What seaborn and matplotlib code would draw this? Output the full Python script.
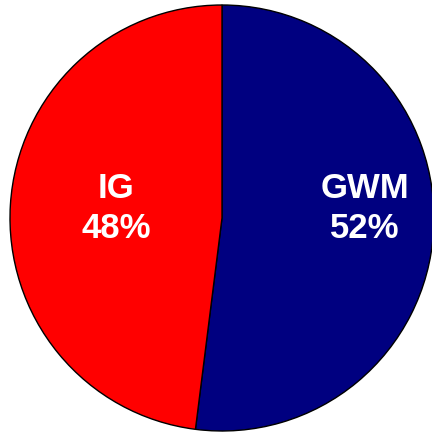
import matplotlib
matplotlib.use('Agg')
import matplotlib.pyplot as plt
import seaborn as sns

labels = ['GWM', 'IG']
shares = [52, 48]
colors = ['#000080', '#FF0000']

sns.set_theme(style='white')
plt.rcParams['font.family'] = ['Liberation Sans', 'DejaVu Sans']

fig = plt.figure(figsize=(4.32, 4.33), dpi=100)
# circle spans roughly x 10..434, y 5..431 px in the original
ax = fig.add_axes([10 / 432, (433 - 431) / 433, 424 / 432, 426 / 433])
wedges, _ = ax.pie(shares, colors=colors, startangle=90, counterclock=False,
                   radius=1, wedgeprops=dict(edgecolor='black', linewidth=1))
ax.set_xlim(-1, 1)
ax.set_ylim(-1, 1)
ax.set_aspect('auto')
ax.axis('off')

# label centres, in units of the radius
label_pos = [(0.675, 0.045), (-0.50, 0.045)]
for name, val, (x, y) in zip(labels, shares, label_pos):
    ax.text(x, y, f'{name}\n{val}%', ha='center', va='center', color='white',
            fontsize=25, fontweight='bold', linespacing=1.25)

fig.savefig('out.png', dpi=100)
